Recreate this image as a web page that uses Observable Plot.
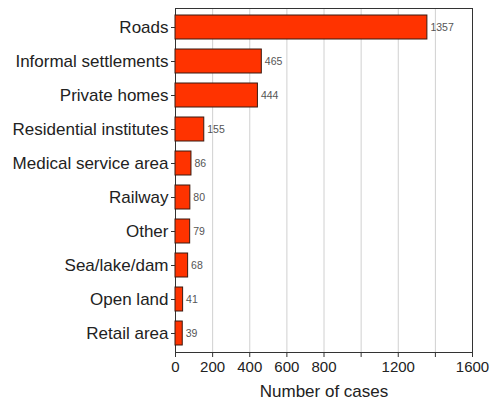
<!DOCTYPE html>
<html>
<head>
<meta charset="utf-8">
<script src="https://cdn.jsdelivr.net/npm/d3@7"></script>
<script src="https://cdn.jsdelivr.net/npm/@observablehq/plot@0.6"></script>
<style>
  html, body { margin: 0; padding: 0; background: #fff; }
  #chart { width: 493px; height: 409px; }
  #chart g[aria-label="x-axis label"] { font-size: 17px; }
</style>
</head>
<body>
<div id="chart"></div>
<script>
const categories = ["Roads", "Informal settlements", "Private homes", "Residential institutes", "Medical service area", "Railway", "Other", "Sea/lake/dam", "Open land", "Retail area"];
const cases = [1357, 465, 444, 155, 86, 80, 79, 68, 41, 39];
const xTicks = [0, 200, 400, 600, 800, 1000, 1200, 1400, 1600];
const xTickLabels = [0, 200, 400, 600, 800, 1200, 1600];
const xTitle = "Number of cases";

const data = categories.map((c, i) => ({category: c, value: cases[i]}));
const labelSet = new Set(xTickLabels);

const chart = Plot.plot({
  width: 493,
  height: 409,
  marginLeft: 175,
  marginRight: 21,
  marginTop: 8,
  marginBottom: 57,
  style: {fontFamily: "'Liberation Sans', Arial, sans-serif", background: "#fff", color: "#222"},
  x: {domain: [0, 1600]},
  y: {domain: categories, paddingInner: 0.3, paddingOuter: 0.15, align: 0.5},
  marks: [
    Plot.gridX(xTicks, {stroke: "#d0d0d0", strokeOpacity: 1}),
    Plot.frame({stroke: "#333"}),
    Plot.barX(data, {x: "value", y: "category", fill: "#ff3300", stroke: "#3a1a10", strokeWidth: 1}),
    Plot.text(data, {x: "value", y: "category", text: d => String(d.value), textAnchor: "start", dx: 3, fontSize: 10.5, fill: "#555"}),
    Plot.axisY({tickSize: 4, tickPadding: 3, fontSize: 17, label: null, stroke: "#333"}),
    Plot.axisX({ticks: xTicks, tickFormat: d => labelSet.has(d) ? String(d) : "", tickSize: 5, tickPadding: 4, fontSize: 15, label: xTitle, labelAnchor: "center", labelArrow: "none", labelOffset: 44, stroke: "#333"})
  ]
});
chart.querySelectorAll('g[aria-label="x-axis label"]').forEach(g => {
  g.setAttribute("font-size", 17);
  g.querySelectorAll("text").forEach(t => t.setAttribute("font-size", 17));
});
document.getElementById("chart").appendChild(chart);
</script>
</body>
</html>
